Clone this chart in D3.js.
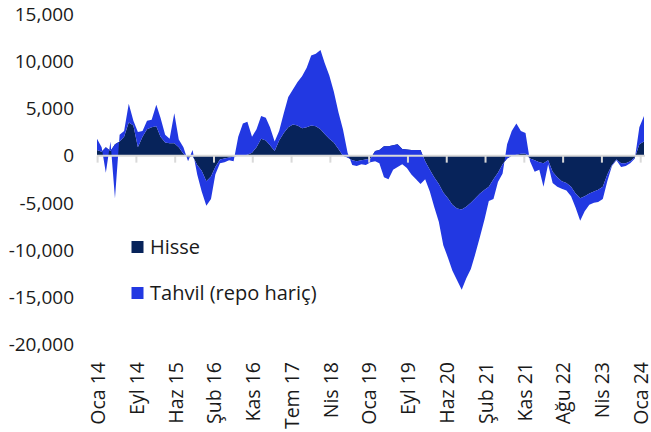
<!DOCTYPE html>
<html>
<head>
<meta charset="utf-8">
<script src="https://cdn.jsdelivr.net/npm/d3@7"></script>
<style>
body{margin:0;background:#fff;}
text{font-family:"Open Sans",sans-serif;fill:#1a1a1a;}
</style>
</head>
<body>
<script>
// aylik veri, Oca 2014 - Oca 2024
const startMonth = new Date(2014, 0, 1);
const hisse = [600,400,900,500,1200,1500,2000,3500,3200,900,2000,2800,
  3000,3100,2000,1400,1300,1300,900,200,-200,0,-1000,-1600,
  -2700,-2200,-1200,-400,-300,-200,-100,0,0,100,300,900,
  1800,1600,1100,500,1600,2400,3000,3300,3200,2900,3000,3200,
  3100,2800,2300,1800,1400,700,0,-200,-500,-600,-500,-400,
  -300,500,600,1000,1000,1100,1200,700,650,600,600,600,
  -600,-1500,-2300,-3000,-3900,-4500,-5200,-5600,-5700,-5400,-5000,-4500,
  -4000,-3600,-3300,-2500,-1800,-900,-300,0,100,200,200,-300,
  -500,-700,-800,-500,-1700,-2300,-2700,-2900,-3300,-4000,-4500,-4300,
  -4000,-3800,-3600,-3300,-2000,-1000,-400,-800,-800,-600,-200,1200,
  1500];
const toplam = [1800,900,-1800,1500,-4500,2200,2600,5500,3700,2500,2600,3700,
  3800,5400,4000,2200,1800,4500,1700,900,-600,600,-2000,-3800,
  -5300,-4600,-2000,-800,-700,-500,-600,2000,3400,3600,2000,2800,
  4200,4000,3000,1500,2600,4500,6200,7000,7800,8400,9300,10600,
  10800,11200,9800,8500,6800,4600,2800,300,-1000,-1100,-900,-1000,
  -700,-600,-800,-2300,-2500,-1500,-1200,-900,-1300,-2000,-2500,-3000,
  -2500,-3800,-5400,-7000,-9500,-10800,-12200,-13200,-14200,-13000,-12000,-10400,
  -8600,-6700,-4800,-4600,-2800,-1900,1200,2600,3400,2600,2400,-600,
  -1700,-1500,-3300,-900,-2900,-3300,-3500,-3700,-4300,-5500,-6900,-5900,
  -5200,-5000,-4900,-4600,-2700,-1100,-500,-1200,-1100,-800,-300,3000,
  4200];
// tahvil = toplam - hisse (Excel yigilmis alan)
const tahvil = toplam.map((v, i) => v - hisse[i]);

const yTicks = [15000,10000,5000,0,-5000,-10000,-15000,-20000];
const xLabels = ["Oca 14","Eyl 14","Haz 15","Şub 16","Kas 16","Tem 17","Nis 18",
  "Oca 19","Eyl 19","Haz 20","Şub 21","Kas 21","Ağu 22","Nis 23","Oca 24"];
const seriesNames = ["Hisse","Tahvil (repo hariç)"];
const colors = ["#07235a","#2238e2"];

const w = 651, h = 432;
const svg = d3.select("body").append("svg")
  .attr("width", w).attr("height", h);

const data = hisse.map((d, i) => ({
  date: d3.timeMonth.offset(startMonth, i),
  hisse: d,
  tahvil: tahvil[i]
}));

const x = d3.scaleTime()
  .domain([startMonth, d3.timeMonth.offset(startMonth, 120)])
  .range([97, 644]);
const y = d3.scaleLinear().domain([-20000, 15000]).range([344.5, 14]);

const stack = d3.stack().keys(["hisse","tahvil"]).offset(d3.stackOffsetNone);
const layers = stack(data);

const area = d3.area()
  .x(d => x(d.data.date))
  .y0(d => y(d[0]))
  .y1(d => y(d[1]));

svg.selectAll("path.layer")
  .data(layers)
  .join("path")
  .attr("class", "layer")
  .attr("fill", (d, i) => colors[i])
  .attr("d", area);

// y ekseni etiketleri
const fmt = d3.format(",");
svg.append("g")
  .selectAll("text")
  .data(yTicks)
  .join("text")
  .attr("x", 74)
  .attr("y", d => y(d))
  .attr("dy", "0.35em")
  .attr("text-anchor", "end")
  .style("font-size", "19px")
  .text(d => fmt(d).replace("−", "-"));

// sifir cizgisi ve tikler
const tickStart = new Date(2014, 0, 5);
const tickDates = xLabels.map((d, i) => d3.timeDay.offset(tickStart, 259 * i));
const ax = svg.append("g");
ax.append("line")
  .attr("x1", 97).attr("x2", 645)
  .attr("y1", y(0)).attr("y2", y(0))
  .attr("stroke", "#d9d9d9").attr("stroke-width", 2);
ax.selectAll("line.tick")
  .data(tickDates)
  .join("line")
  .attr("class", "tick")
  .attr("x1", d => x(d)).attr("x2", d => x(d))
  .attr("y1", y(0)).attr("y2", y(0) + 7)
  .attr("stroke", "#d9d9d9").attr("stroke-width", 2);

svg.append("g")
  .selectAll("text")
  .data(xLabels)
  .join("text")
  .attr("transform", (d, i) => `translate(${x(tickDates[i]) + 0.5},362) rotate(-90)`)
  .attr("dy", "0.35em")
  .attr("text-anchor", "end")
  .style("font-size", "19.5px")
  .text(d => d);

// lejant
const leg = svg.append("g").selectAll("g")
  .data(seriesNames)
  .join("g")
  .attr("transform", (d, i) => `translate(131.5,${241 + i * 46})`);
leg.append("rect")
  .attr("width", 12).attr("height", 12)
  .attr("fill", (d, i) => colors[i]);
leg.append("text")
  .attr("x", 18.5).attr("y", 6)
  .attr("dy", "0.35em")
  .style("font-size", "20px")
  .text(d => d);
</script>
</body>
</html>
